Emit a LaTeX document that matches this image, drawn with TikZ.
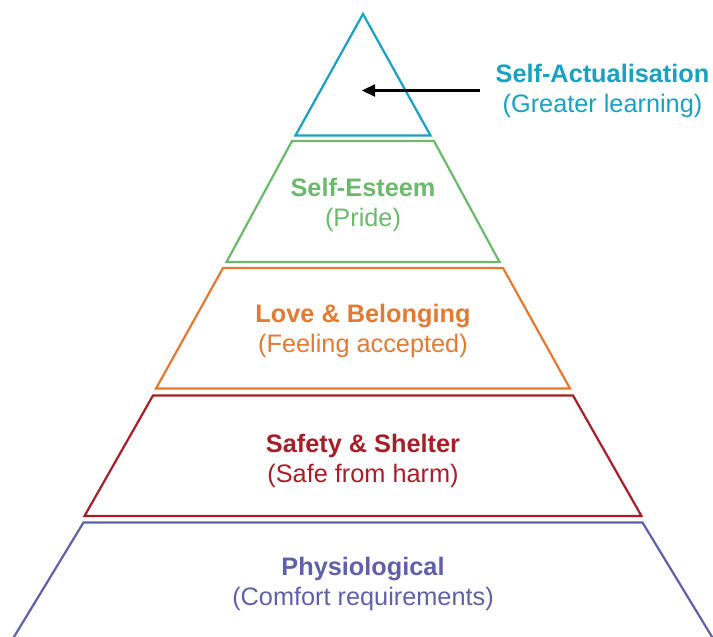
\documentclass[tikz,border=0pt]{standalone}
\usepackage{fontspec}
\setmainfont{Liberation Sans}
\usetikzlibrary{arrows.meta}
\definecolor{cteal}{RGB}{26,160,192}
\definecolor{cgreen}{RGB}{108,185,110}
\definecolor{corange}{RGB}{226,122,52}
\definecolor{cred}{RGB}{168,30,40}
\definecolor{cpurple}{RGB}{96,96,170}
\begin{document}
\begin{tikzpicture}[x=1pt,y=-1pt,
  tier/.style={line width=2.2pt,line join=miter},
  title/.style={anchor=base,inner sep=0pt,font=\fontsize{25.3}{30}\selectfont\bfseries},
  sub/.style={anchor=base,inner sep=0pt,font=\fontsize{25.3}{30}\selectfont},
  pointer/.style={line width=2.2pt,-{Triangle[length=13pt,width=12pt]}}]
\useasboundingbox (0,0) rectangle (713,637);
\clip (0,0) rectangle (713,637);
% tier 1: self-actualisation
\coordinate (apex) at (363,14);
\draw[tier,cteal] (apex) -- (430.5,135.5) -- (295.5,135.5) -- cycle;
% tier 2: self-esteem
\draw[tier,cgreen] (292,141) -- (434,141) -- (499.5,262) -- (226.5,262) -- cycle;
% tier 3: love
\draw[tier,corange] (223,268) -- (503,268) -- (570,388.5) -- (156,388.5) -- cycle;
% tier 4: safety
\draw[tier,cred] (153,395.5) -- (573,395.5) -- (641.5,516) -- (84.5,516) -- cycle;
% tier 5: physiological
\draw[tier,cpurple] (6,650) -- (83.5,522.5) -- (642.5,522.5) -- (720,650);
% texts
\node[title,text=cteal] (saT) at (602.5,82.5) {Self-Actualisation};
\node[sub,text=cteal] (saS) at (602.5,112.5) {(Greater learning)};
\node[title,text=cgreen] (seT) at (363,196.5) {Self-Esteem};
\node[sub,text=cgreen] (seS) at (363,226.5) {(Pride)};
\node[title,text=corange] (lbT) at (363,322) {Love \& Belonging};
\node[sub,text=corange] (lbS) at (363,352) {(Feeling accepted)};
\node[title,text=cred] (ssT) at (363,452.5) {Safety \& Shelter};
\node[sub,text=cred] (ssS) at (363,482.5) {(Safe from harm)};
\node[title,text=cpurple] (phT) at (363,575) {Physiological};
\node[sub,text=cpurple] (phS) at (363,605) {(Comfort requirements)};
% arrow
\coordinate (arrStart) at (479.5,90.5);
\coordinate (arrTip) at (362,90.5);
\draw[pointer] (arrStart) -- (arrTip);
\end{tikzpicture}
\end{document}
